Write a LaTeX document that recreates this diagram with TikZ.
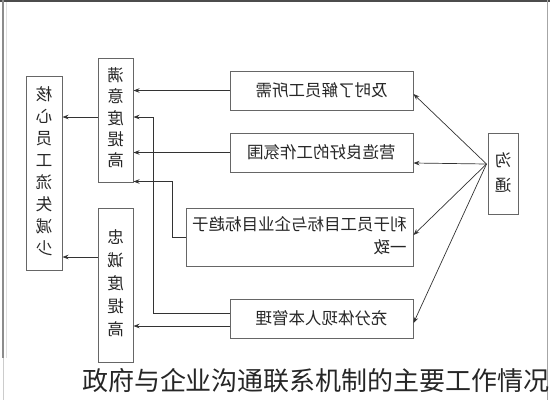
\documentclass[tikz,border=0pt]{standalone}
\usepackage{fontspec}
\usetikzlibrary{arrows.meta,calc}
\newfontfamily\cjk{Noto Sans CJK SC}
\newcommand\mirtext[1]{\scalebox{-1}[1]{#1}}
\newcommand\vstack[2]{\scalebox{-1}[1]{\fontsize{16.5}{#1}\selectfont\begin{tabular}{@{}c@{}}#2\end{tabular}}}
\begin{document}
\begin{tikzpicture}[x=1pt,y=-1pt,
  box/.style={draw=black!60, line width=1pt, inner sep=0pt, text=black!85,
    font=\cjk\fontsize{16.5}{20}\selectfont},
  arr/.style={draw=black!80, line width=0.7pt, -{Stealth[length=6pt,width=4.5pt]}}]
\useasboundingbox (0,0) rectangle (550,400);
% frame
\draw[black!70, line width=1.5pt] (0,1) -- (550,1);
\draw[black!45, line width=1.2pt] (3,0) -- (3,358);
\draw[black!20, line width=1pt] (3,358) -- (3,400);
\draw[black!12, line width=0.8pt] (6.5,2) -- (6.5,358);
\draw[black!35, line width=1pt] (547,0) -- (547,400);
% nodes
\node[box, minimum width=36pt, minimum height=194pt] (hx) at (44,173)
  {\vstack{21.9}{核\\心\\员\\工\\流\\失\\减\\少}};
\node[box, minimum width=35pt, minimum height=124pt] (my) at (115.5,120)
  {\vstack{21.3}{满\\意\\度\\提\\高}};
\node[box, minimum width=35pt, minimum height=154pt] (zc) at (115.5,285)
  {\vstack{23}{忠\\诚\\度\\提\\高}};
\node[box, minimum width=183pt, minimum height=39pt] (b1) at (321.5,90.5)
  {\mirtext{及时了解员工所需}};
\node[box, minimum width=183pt, minimum height=39pt] (b2) at (321.5,152.5)
  {\mirtext{营造良好的工作氛围}};
\node[box, minimum width=227pt, minimum height=58pt] (b3) at (299.5,237)
  {\mirtext{\fontsize{16.5}{23}\selectfont\begin{tabular}{@{}l@{}}利于员工目标与企业目标趋于\\一致\end{tabular}}};
\node[box, minimum width=183pt, minimum height=39pt] (b4) at (321.5,318.5)
  {\mirtext{充分体现人本管理}};
\node[box, minimum width=30pt, minimum height=81pt] (gou) at (503,173.5)
  {\vstack{25}{沟\\通}};
\node[font=\cjk\fontsize{26}{30}\selectfont, text=black!85, inner sep=0pt] (cap) at (316,381)
  {政府与企业沟通联系机制的主要工作情况};
% connectors
\draw[arr] (b1.west) -- (b1.west -| my.east);
\draw[arr] (b2.west) -- (b2.west -| my.east);
\coordinate (myw) at ($(my.west)+(0,-3)$);
\draw[arr] (myw) -- (myw -| hx.east);
\coordinate (zw) at ($(zc.west)+(0,-28)$);
\draw[arr] (zw) -- (zw -| hx.east);
\draw[arr] (b3.west) -- ++(-13,0) |- ($(my.south east)+(0,-1)$);
\coordinate (b4a) at ($(b4.west)+(0,-5.5)$);
\draw[arr] (b4a) -- ++(-76,0) |- (myw -| my.east);
\coordinate (b4b) at ($(b4.west)+(0,7.5)$);
\draw[arr] (b4b) -- (b4b -| zc.east);
\coordinate (g0) at ($(gou.west)+(-1,-9.5)$);
\draw[arr] (g0) -- ($(b1.east)+(0,3.5)$);
\draw[arr] (g0) -- ($(b2.east)+(0,10.5)$);
\draw[arr] (g0) -- ($(b3.east)+(0,-2)$);
\draw[arr] (g0) -- ($(b4.east)+(0,4.5)$);
\end{tikzpicture}
\end{document}
